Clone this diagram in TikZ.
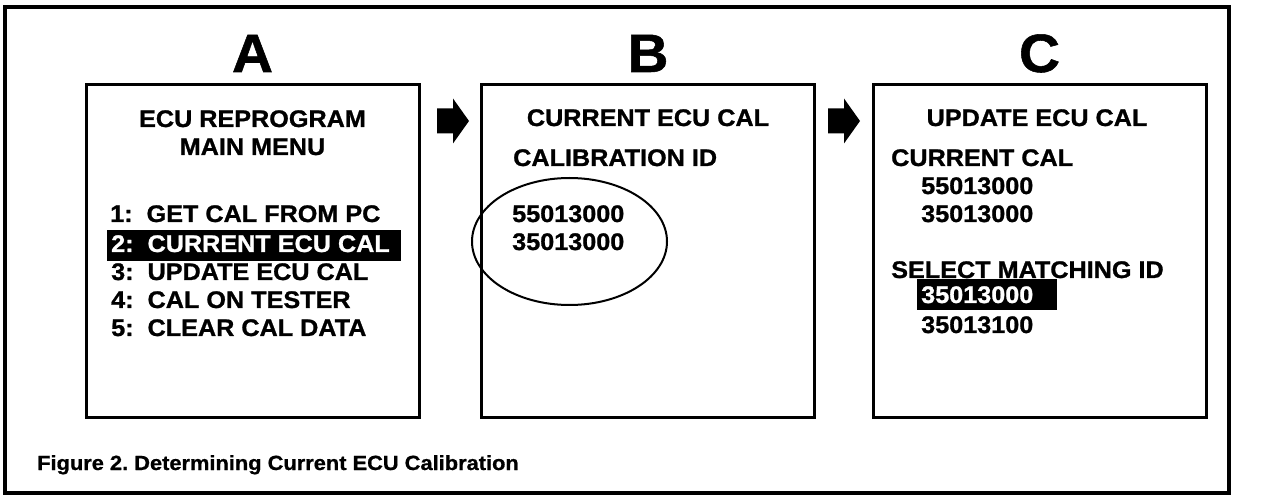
\documentclass[tikz,border=0pt]{standalone}
\usepackage{fontspec}
\newfontfamily\hv[FakeStretch=1.05, FakeBold=1.0]{Liberation Sans}
\newfontfamily\hvcap[FakeStretch=1.065, FakeBold=0.8]{Liberation Sans}
\frenchspacing
\begin{document}
\begin{tikzpicture}[x=1pt,y=-1pt]
\tikzset{
 panel/.style={draw, line width=3pt, minimum width=333pt, minimum height=333pt, inner sep=0pt},
 txt/.style={font=\hv\bfseries\fontsize{24}{24}\selectfont, inner sep=0pt, anchor=base west},
 ctxt/.style={txt, anchor=base},
 wtxt/.style={txt, text=white},
 big/.style={font=\hv\bfseries\fontsize{54}{54}\selectfont, inner sep=0pt, anchor=base},
 captxt/.style={font=\hvcap\bfseries\fontsize{20.5}{20.5}\selectfont, inner sep=0pt, anchor=base west},
 blockarrow/.style={fill=black},
}
\useasboundingbox (0,0) rectangle (1264,502);
% outer frame
\draw[line width=3.5pt] (5,7) rectangle (1229,493);
% panels
\node[panel] (A) at (252.5,251.5) {};
\node[panel] (B) at (648,251.5) {};
\node[panel] (C) at (1039.5,251.5) {};
% letters
\node[big] (la) at (252.5,72) {A};
\node[big] (lb) at (648,72) {B};
\node[big] (lc) at (1039.5,72) {C};
% arrows
\coordinate (arrAB) at (437,121);
\coordinate (arrBC) at (828,121);
\foreach \c in {arrAB,arrBC}{
  \fill[blockarrow] ([shift={(0,-12.5)}]\c) -- ++(16,0) -- ++(0,-10) -- ++(16,22.5) -- ++(-16,22.5) -- ++(0,-10) -- ++(-16,0) -- cycle;
}
% panel A
\node[ctxt] (a1) at (252.5,127) {ECU REPROGRAM};
\node[ctxt] (a2) at (252.5,155) {MAIN MENU};
\node[txt] (i1) at (110,222) {1:\ \ GET CAL FROM PC};
\fill (107,230) rectangle (401,261);
\node[wtxt] (i2) at (111,252) {2:\ \ CURRENT ECU CAL};
\node[txt] (i3) at (111,280) {3:\ \ UPDATE ECU CAL};
\node[txt] (i4) at (111,308) {4:\ \ CAL ON TESTER};
\node[txt] (i5) at (111,336) {5:\ \ CLEAR CAL DATA};
% panel B
\node[ctxt] (b1) at (648,126) {CURRENT ECU CAL};
\node[txt] (b2) at (513,166) {CALIBRATION ID};
\node[txt] (b3) at (512,222) {55013000};
\node[txt] (b4) at (512,250) {35013000};
\draw[line width=2pt] (569.5,241.5) ellipse [x radius=97.5, y radius=63.5];
% panel C
\node[ctxt] (c1) at (1037,126) {UPDATE ECU CAL};
\node[txt] (c2) at (891,166) {CURRENT CAL};
\node[txt] (c3) at (921,194) {55013000};
\node[txt] (c4) at (921,222) {35013000};
\node[txt] (c5) at (891,278) {SELECT MATCHING ID};
\fill (917,279) rectangle (1057,310);
\node[wtxt] (c6) at (921,303) {35013000};
\node[txt] (c7) at (921,333) {35013100};
% caption
\node[captxt] (fig) at (37,470) {Figure 2. Determining Current ECU Calibration};
\end{tikzpicture}
\end{document}
